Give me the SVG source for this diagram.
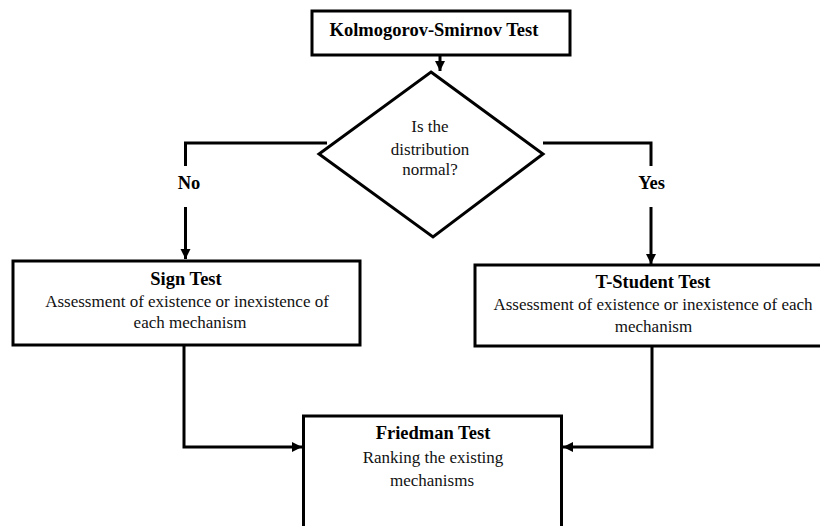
<svg xmlns="http://www.w3.org/2000/svg" width="820" height="526" viewBox="0 0 820 526">
<style>
  .box { fill: #fff; stroke: #000; stroke-width: 3; }
  .line { fill: none; stroke: #000; stroke-width: 3; }
  text { font-family: 'Liberation Serif', 'DejaVu Serif', serif; text-anchor: middle; fill: #000; }
  .h { font-weight: bold; font-size: 18.5px; }
  .t { font-size: 17px; fill: #111; }
</style>
<defs>
  <marker id="arr" viewBox="0 0 10 10" refX="10" refY="5" markerWidth="3.4" markerHeight="3.4" orient="auto" markerUnits="strokeWidth">
    <path d="M0,0 L10,5 L0,10 Z" fill="#000"/>
  </marker>
</defs>
<rect width="820" height="526" fill="#fff"/>

<g id="connectors">
  <path class="line" d="M440,55 L440,71" marker-end="url(#arr)"/>
  <path class="line" d="M327,143 L185.5,143 L185.5,166"/>
  <path class="line" d="M185.5,207 L185.5,259" marker-end="url(#arr)"/>
  <path class="line" d="M543,143 L651,143 L651,166"/>
  <path class="line" d="M651,207 L651,264" marker-end="url(#arr)"/>
  <path class="line" d="M184,345 L184,447 L302,447" marker-end="url(#arr)"/>
  <path class="line" d="M652,346 L652,447 L563,447" marker-end="url(#arr)"/>
  <text class="h" x="189" y="189" font-family="Liberation Serif, serif">No</text>
  <text class="h" x="651.5" y="189" font-family="Liberation Serif, serif">Yes</text>
</g>

<g id="ks">
  <rect class="box" x="312" y="11" width="258" height="44"/>
  <text class="h" x="434" y="35.5">Kolmogorov-Smirnov Test</text>
</g>

<g id="decision">
  <polygon class="box" points="431,72 543,154 433,237 319,154"/>
  <text class="t" x="430" y="132">Is the</text>
  <text class="t" x="430" y="154.5">distribution</text>
  <text class="t" x="430" y="175">normal?</text>
</g>

<g id="sign">
  <rect class="box" x="13" y="261" width="347" height="84"/>
  <text class="h" x="186" y="284.5">Sign Test</text>
  <text class="t" x="187" y="307">Assessment of existence or inexistence of</text>
  <text class="t" x="190" y="328">each mechanism</text>
</g>

<g id="tstudent">
  <rect class="box" x="475" y="265" width="360" height="81"/>
  <text class="h" x="653" y="288">T-Student Test</text>
  <text class="t" x="653" y="310">Assessment of existence or inexistence of each</text>
  <text class="t" x="653.5" y="332">mechanism</text>
</g>

<g id="friedman">
  <rect class="box" x="303.5" y="416" width="258" height="130"/>
  <text class="h" x="433" y="439">Friedman Test</text>
  <text class="t" x="433" y="463">Ranking the existing</text>
  <text class="t" x="432" y="485.5">mechanisms</text>
</g>
</svg>
